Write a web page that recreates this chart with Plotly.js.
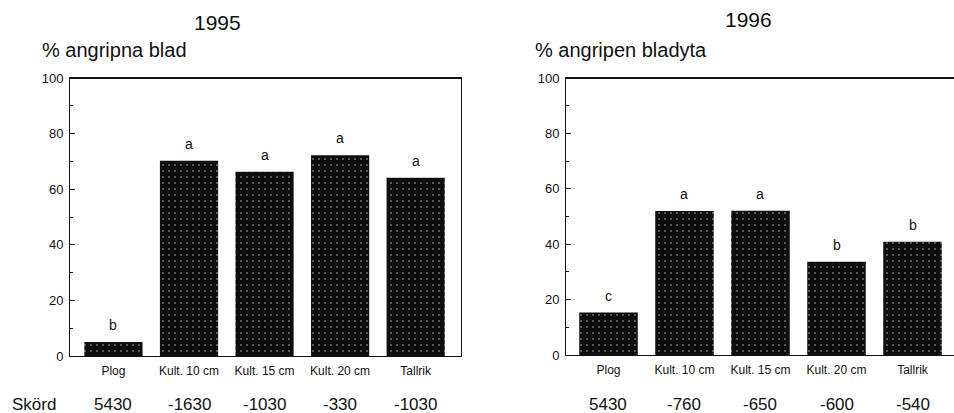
<!DOCTYPE html>
<html>
<head>
<meta charset="utf-8">
<script src="https://cdn.plot.ly/plotly-3.0.1.min.js"></script>
<style>
  html, body { margin: 0; padding: 0; background: #fff; }
  #chart { width: 954px; height: 413px; }
</style>
</head>
<body>
<div id="chart"></div>
<script>
// Treatments (soil tillage methods)
const categories = ["Plog", "Kult. 10 cm", "Kult. 15 cm", "Kult. 20 cm", "Tallrik"];

// 1995: % attacked leaves
const values1995 = [5.0, 70.2, 66.3, 72.2, 64.1];
const letters1995 = ["b", "a", "a", "a", "a"];
const yield1995 = ["5430", "-1630", "-1030", "-330", "-1030"];

// 1996: % attacked leaf area
const values1996 = [15.3, 52.0, 52.1, 33.7, 40.9];
const letters1996 = ["c", "a", "a", "b", "b"];
const yield1996 = ["5430", "-760", "-650", "-600", "-540"];

const yTickVals = [0, 20, 40, 60, 80, 100];
const yTickText = ["0", "20", "40", "60", "80", "100"];

const W = 954, H = 413;
const FONT = "Liberation Sans, Arial, sans-serif";
const INK = "#111";

// near-black fill with a faint stipple
const barPattern = {
  shape: ".",
  bgcolor: "#0e0e0e",
  fgcolor: "#6a6a6a",
  size: 6,
  solidity: 0.1
};

function barTrace(vals, xa, ya) {
  return {
    type: "bar",
    x: categories,
    y: vals,
    xaxis: xa,
    yaxis: ya,
    width: 0.77,
    marker: { color: "#0e0e0e", pattern: barPattern, line: { width: 0 } },
    hoverinfo: "x+y",
    showlegend: false
  };
}

function yAxis(domain, anchor) {
  return {
    domain: domain,
    anchor: anchor,
    range: [0, 100],
    tickvals: yTickVals,
    ticktext: yTickText,
    ticks: "inside",
    ticklen: 5,
    tickwidth: 1,
    tickcolor: INK,
    minor: { dtick: 10, tick0: 0, ticks: "inside", ticklen: 3, tickcolor: INK },
    showgrid: false,
    zeroline: false,
    showline: true,
    linecolor: INK,
    linewidth: 1,
    mirror: true,
    tickfont: { family: FONT, size: 13, color: INK },
    ticklabelstandoff: 3,
    fixedrange: true
  };
}

function xAxis(domain, anchor, range) {
  return {
    domain: domain,
    anchor: anchor,
    type: "category",
    range: range,
    ticks: "",
    showgrid: false,
    zeroline: false,
    showline: true,
    linecolor: INK,
    linewidth: 1,
    mirror: true,
    tickfont: { family: FONT, size: 12, color: INK },
    ticklabelstandoff: 4,
    fixedrange: true
  };
}

const traces = [
  barTrace(values1995, "x", "y"),
  barTrace(values1996, "x2", "y2")
];

const annotations = [];

function letterNotes(vals, letters, xref, yref) {
  vals.forEach((v, i) => {
    annotations.push({
      x: categories[i], y: v, xref: xref, yref: yref,
      text: letters[i], showarrow: false,
      yanchor: "bottom", yshift: 7,
      font: { family: FONT, size: 14, color: INK }
    });
  });
}
letterNotes(values1995, letters1995, "x", "y");
letterNotes(values1996, letters1996, "x2", "y2");

function yieldNotes(vals, xref) {
  vals.forEach((t, i) => {
    annotations.push({
      x: categories[i], xref: xref,
      y: 1 - 404 / H, yref: "paper",
      text: t, showarrow: false,
      xanchor: "center", yanchor: "middle",
      font: { family: FONT, size: 17, color: INK }
    });
  });
}
yieldNotes(yield1995, "x");
yieldNotes(yield1996, "x2");

annotations.push(
  { text: "Skörd", x: 10 / W, y: 1 - 404 / H, xref: "paper", yref: "paper",
    xanchor: "left", yanchor: "middle", showarrow: false,
    font: { family: FONT, size: 17, color: INK } },
  { text: "1995", x: 217 / W, y: 1 - 22 / H, xref: "paper", yref: "paper",
    xanchor: "center", yanchor: "middle", showarrow: false,
    font: { family: FONT, size: 21, color: INK } },
  { text: "1996", x: 748 / W, y: 1 - 20 / H, xref: "paper", yref: "paper",
    xanchor: "center", yanchor: "middle", showarrow: false,
    font: { family: FONT, size: 21, color: INK } },
  { text: "% angripna blad", x: 40 / W, y: 1 - 50 / H, xref: "paper", yref: "paper",
    xanchor: "left", yanchor: "middle", showarrow: false,
    font: { family: FONT, size: 20, color: INK } },
  { text: "% angripen bladyta", x: 533 / W, y: 1 - 50 / H, xref: "paper", yref: "paper",
    xanchor: "left", yanchor: "middle", showarrow: false,
    font: { family: FONT, size: 20, color: INK } }
);

const yBottom1 = 1 - 356 / H, yBottom2 = 1 - 355 / H, yTop = 1 - 78 / H;

const layout = {
  width: W,
  height: H,
  margin: { l: 0, r: 0, t: 0, b: 0 },
  paper_bgcolor: "#fff",
  plot_bgcolor: "#fff",
  bargap: 0.23,
  xaxis: xAxis([70 / W, 461 / W], "y", [-0.575, 4.6]),
  yaxis: yAxis([yBottom1, yTop], "x"),
  xaxis2: xAxis([566 / W, 1], "y2", [-0.559, 4.546]),
  yaxis2: yAxis([yBottom2, yTop], "x2"),
  annotations: annotations,
  shapes: [
    // heavier top frame lines
    { type: "line", xref: "paper", yref: "paper", x0: 70 / W, x1: 461 / W, y0: yTop, y1: yTop,
      line: { color: INK, width: 2 } },
    { type: "line", xref: "paper", yref: "paper", x0: 566 / W, x1: 1, y0: yTop, y1: yTop,
      line: { color: INK, width: 2 } }
  ],
  showlegend: false
};

Plotly.newPlot("chart", traces, layout, { displayModeBar: false, staticPlot: true });
</script>
</body>
</html>
